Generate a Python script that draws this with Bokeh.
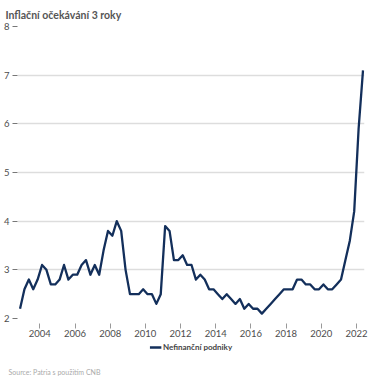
from bokeh.plotting import figure
from bokeh.layouts import column
from bokeh.models import Range1d, FixedTicker, Legend, LegendItem, Title, ColumnDataSource
from bokeh.embed import file_html
from bokeh.resources import INLINE

# Quarterly inflation expectations (3-year horizon), non-financial corporations
values = [
    2.2, 2.6, 2.8, 2.6, 2.8, 3.1, 3.0, 2.7, 2.7, 2.8,
    3.1, 2.8, 2.9, 2.9, 3.1, 3.2, 2.9, 3.1, 2.9, 3.4,
    3.8, 3.7, 4.0, 3.8, 3.0, 2.5, 2.5, 2.5, 2.6, 2.5,
    2.5, 2.3, 2.5, 3.9, 3.8, 3.2, 3.2, 3.3, 3.1, 3.1,
    2.8, 2.9, 2.8, 2.6, 2.6, 2.5, 2.4, 2.5, 2.4, 2.3,
    2.4, 2.2, 2.3, 2.2, 2.2, 2.1, 2.2, 2.3, 2.4, 2.5,
    2.6, 2.6, 2.6, 2.8, 2.8, 2.7, 2.7, 2.6, 2.6, 2.7,
    2.6, 2.6, 2.7, 2.8, 3.2, 3.6, 4.2, 5.9, 7.1,
]
first_quarter = 2002.875
quarter_step = 0.25
series_name = "Nefinanční podniky"
title_text = "Inflační očekávání 3 roky"
source_text = "Source: Patria s použitím CNB"
x_ticks = [2004, 2006, 2008, 2010, 2012, 2014, 2016, 2018, 2020, 2022]
y_ticks = [2, 3, 4, 5, 6, 7, 8]

years = [first_quarter + quarter_step * i for i in range(len(values))]
src = ColumnDataSource(dict(x=years, y=values))

FONT = "Lato"
LINE = "#132f5b"

p = figure(frame_width=347, frame_height=292, output_backend="svg", toolbar_location=None,
           x_range=Range1d(2002.73, 2022.46), y_range=Range1d(2, 8),
           min_border_left=17, min_border_right=12, min_border_top=24,
           min_border_bottom=24)
p.outline_line_color = None
p.background_fill_color = "white"
p.border_fill_color = "white"

p.title.text = title_text
p.title.text_font = FONT
p.title.text_font_size = "10.5px"
p.title.text_font_style = "bold"
p.title.text_color = "#555555"
p.title.align = "left"
p.title.offset = -12
p.title.standoff = 12

r = p.line("x", "y", source=src, line_color=LINE, line_width=2.3, line_join="round")

# axes
p.xaxis.ticker = FixedTicker(ticks=x_ticks)
p.xaxis.minor_tick_line_color = None
p.xaxis.axis_line_color = None
p.xaxis.major_tick_line_color = "#999999"
p.xaxis.major_tick_in = -5
p.xaxis.major_tick_out = 10
p.xaxis.major_label_standoff = 1
p.xaxis.major_label_text_font = FONT
p.xaxis.major_label_text_font_size = "9.5px"
p.xaxis.major_label_text_color = "#4d4d4d"

p.yaxis.ticker = FixedTicker(ticks=y_ticks)
p.yaxis.minor_tick_line_color = None
p.yaxis.axis_line_color = None
p.yaxis.major_tick_line_color = "#777777"
p.yaxis.major_tick_in = 0
p.yaxis.major_tick_out = 5
p.yaxis.major_label_standoff = 3
p.yaxis.major_label_text_font = FONT
p.yaxis.major_label_text_font_size = "9.5px"
p.yaxis.major_label_text_color = "#4d4d4d"

p.xgrid.grid_line_color = None
p.ygrid.grid_line_color = "#dddddd"
p.ygrid.grid_line_width = 1.3

# footer strip: legend + source note
f = figure(width=376, height=36, output_backend="svg", toolbar_location=None,
           x_range=Range1d(0, 1), y_range=Range1d(100, 101),
           x_axis_type=None, y_axis_type=None, min_border=0,
           min_border_bottom=14)
f.outline_line_color = None
f.grid.visible = False
f.background_fill_color = "white"
f.border_fill_color = "white"
r2 = f.line("x", "y", source=src, line_color=LINE, line_width=2.3)

legend = Legend(items=[LegendItem(label=series_name, renderers=[r2])],
                orientation="horizontal", location="top",
                label_text_font=FONT, label_text_font_size="8px",
                label_text_font_style="bold", label_text_color="#444444",
                glyph_width=12, glyph_height=10, label_height=10,
                label_standoff=2, padding=0, margin=0, border_line_color=None,
                background_fill_alpha=0)
f.add_layout(legend, "center")

src_title = Title(text=source_text, align="left", text_font=FONT,
                  text_font_size="7px", text_font_style="normal",
                  text_color="#aaaaaa", offset=-9, standoff=2)
f.add_layout(src_title, "below")

layout = column(p, f, spacing=0)
open("out.html", "w").write(file_html(layout, INLINE))
